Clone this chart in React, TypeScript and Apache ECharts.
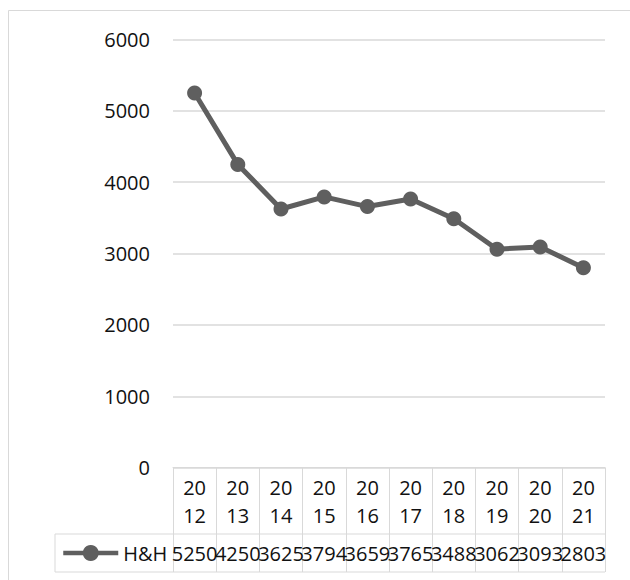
import React, { useEffect, useRef } from "react";
import * as echarts from "echarts";

// H&H yearly figures, 2012–2021
const years: string[] = ["2012", "2013", "2014", "2015", "2016", "2017", "2018", "2019", "2020", "2021"];
const hhValues: number[] = [5250, 4250, 3625, 3794, 3659, 3765, 3488, 3062, 3093, 2803];
const seriesName = "H&H";
const yTicks: number[] = [0, 1000, 2000, 3000, 4000, 5000, 6000];

const W = 630;
const H = 580;
const GRID_LEFT = 173;
const GRID_RIGHT = 25;
const GRID_TOP = 39.5;
const GRID_BOTTOM = 112.3;
const AXIS_Y = H - GRID_BOTTOM; // baseline of the plot / top of the data table
const ROW_SPLIT = 534; // between year row and value row
const TABLE_BOTTOM = 572;
const LEGEND_CELL_LEFT = 55;

const FONT = "'Open Sans', 'Noto Sans', sans-serif";
const TEXT = "#111111";
const RULE = "#d9d9d9";
const LINE = "#5f5f5f";

export default function App() {
  const ref = useRef<HTMLDivElement>(null);

  useEffect(() => {
    if (!ref.current) return;
    const chart = echarts.init(ref.current, undefined, { renderer: "svg" });

    const tableRight = W - GRID_RIGHT;

    chart.setOption({
      animation: false,
      backgroundColor: "#ffffff",
      grid: { left: GRID_LEFT, right: GRID_RIGHT, top: GRID_TOP, bottom: GRID_BOTTOM },
      legend: {
        data: [seriesName],
        left: 61,
        top: 543,
        padding: 0,
        itemWidth: 55,
        itemHeight: 20,
        itemGap: 0,
        lineStyle: { width: 4.5 },
        textStyle: { fontFamily: FONT, fontSize: 20, color: TEXT, lineHeight: 20 },
      },
      xAxis: [
        {
          type: "category",
          data: years,
          boundaryGap: true,
          axisLine: { show: true, lineStyle: { color: RULE, width: 1 } },
          axisTick: {
            show: true,
            interval: 0,
            length: TABLE_BOTTOM - AXIS_Y,
            lineStyle: { color: RULE, width: 1 },
          },
          axisLabel: {
            interval: 0,
            margin: 6,
            fontFamily: FONT,
            fontSize: 20,
            lineHeight: 28,
            color: TEXT,
            formatter: (v: string) => v.slice(0, 2) + "\n" + v.slice(2),
          },
          splitLine: { show: false },
        },
        {
          type: "category",
          data: hhValues.map((v) => String(v)),
          position: "bottom",
          offset: ROW_SPLIT - AXIS_Y,
          boundaryGap: true,
          axisLine: { show: false },
          axisTick: { show: false },
          axisLabel: {
            interval: 0,
            margin: 7,
            fontFamily: FONT,
            fontSize: 20,
            lineHeight: 24,
            color: TEXT,
            hideOverlap: false,
          },
        },
      ],
      yAxis: {
        type: "value",
        min: yTicks[0],
        max: yTicks[yTicks.length - 1],
        interval: 1000,
        axisLine: { show: false },
        axisTick: { show: false },
        axisLabel: {
          margin: 23,
          fontFamily: FONT,
          fontSize: 20,
          color: TEXT,
          formatter: (v: number) => String(v),
        },
        splitLine: { lineStyle: { color: RULE, width: 1.5 } },
      },
      series: [
        {
          name: seriesName,
          type: "line",
          data: hhValues,
          xAxisIndex: 0,
          symbol: "circle",
          symbolSize: 15,
          itemStyle: { color: LINE },
          lineStyle: { color: LINE, width: 5 },
        },
      ],
      graphic: [
        // chart frame
        {
          type: "rect",
          silent: true,
          z: -10,
          shape: { x: 8.5, y: 10.5, width: 700, height: 700 },
          style: { fill: "none", stroke: RULE, lineWidth: 1 },
        },
        // data table: horizontal rules spanning the legend cell
        {
          type: "line",
          silent: true,
          shape: { x1: LEGEND_CELL_LEFT, y1: ROW_SPLIT, x2: tableRight, y2: ROW_SPLIT },
          style: { stroke: RULE, lineWidth: 1 },
        },
        {
          type: "line",
          silent: true,
          shape: { x1: LEGEND_CELL_LEFT, y1: TABLE_BOTTOM, x2: tableRight, y2: TABLE_BOTTOM },
          style: { stroke: RULE, lineWidth: 1 },
        },
        {
          type: "line",
          silent: true,
          shape: { x1: LEGEND_CELL_LEFT, y1: ROW_SPLIT, x2: LEGEND_CELL_LEFT, y2: TABLE_BOTTOM },
          style: { stroke: RULE, lineWidth: 1 },
        },
      ],
    });

    return () => chart.dispose();
  }, []);

  return (
    <div
      ref={ref}
      style={{ position: "fixed", left: 0, top: 0, width: W, height: H, background: "#fff" }}
    />
  );
}
